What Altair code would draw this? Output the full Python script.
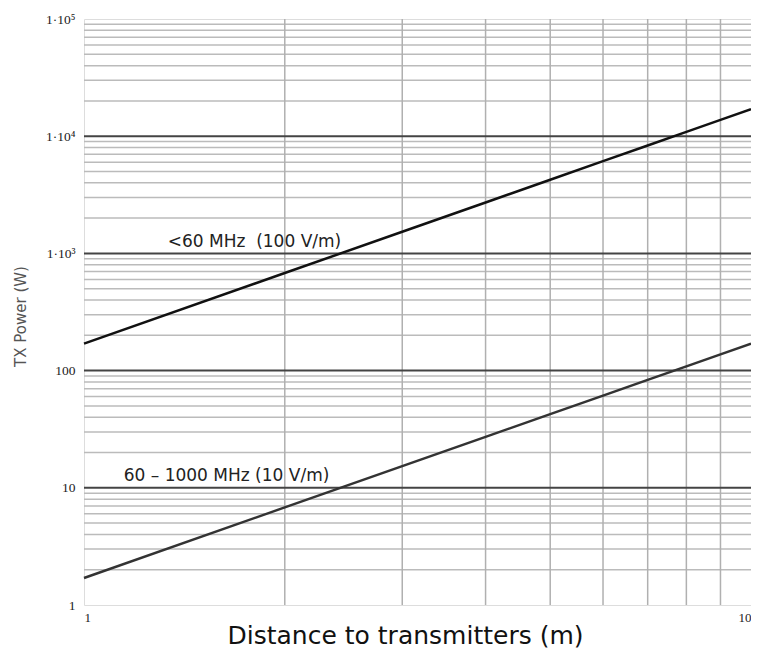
import altair as alt
import pandas as pd

# --- data ---
distance = [1, 2, 3, 4, 5, 6, 7, 8, 9, 10]
power_lt60 = [170, 680, 1530, 2720, 4250, 6120, 8330, 10880, 13770, 17000]
power_60_1000 = [1.7, 6.8, 15.3, 27.2, 42.5, 61.2, 83.3, 108.8, 137.7, 170]

series_names = ["<60 MHz\u00a0 (100 V/m)", "60 – 1000 MHz (10 V/m)"]
label_x = [1.335, 1.147]
label_y = [1242, 12.66]

x_tick_values = [1, 10]
y_tick_values = [1, 10, 100, 1000, 10000, 100000]
y_tick_labels = ["1", "10", "100", "1·10³", "1·10⁴", "1·10⁵"]

x_minor_grid = [2, 3, 4, 5, 6, 7, 8, 9]
y_major_grid = [10, 100, 1000, 10000]
y_minor_grid = [m * 10 ** e for e in range(5) for m in range(2, 10)]

# --- tables ---
lines_df = pd.DataFrame({
    "d": distance * 2,
    "P": power_lt60 + power_60_1000,
    "series": [series_names[0]] * len(distance) + [series_names[1]] * len(distance),
})
labels_df = pd.DataFrame({"d": label_x, "P": label_y, "text": series_names})
xgrid_df = pd.DataFrame({"d": x_minor_grid})
ymaj_df = pd.DataFrame({"P": y_major_grid})
ymin_df = pd.DataFrame({"P": y_minor_grid})

label_expr = "[" + ",".join("'%s'" % s for s in y_tick_labels) + "][indexof([" + \
    ",".join(str(v) for v in y_tick_values) + "], datum.value)]"

x_scale = alt.Scale(type="log", domain=[1, 10], nice=False)
y_scale = alt.Scale(type="log", domain=[1, 100000], nice=False)

x_axis = alt.Axis(
    values=x_tick_values, grid=False, domain=False, ticks=False,
    labelFont="Liberation Serif", labelFontSize=13, labelColor="#222",
    labelPadding=6, labelFlush=False,
    labelAlign={"condition": {"test": "datum.value >= 10", "value": "right"}, "value": "left"},
    title="Distance to transmitters (m)", titleFont="DejaVu Sans",
    titleFontSize=25, titleFontWeight="normal", titleColor="#111",
    titleX=321, titleY=38, titleAlign="center", titleBaseline="alphabetic",
)
y_axis = alt.Axis(
    values=y_tick_values, labelExpr=label_expr, grid=False, domain=False, ticks=False,
    labelFont="Liberation Serif", labelFontSize=13.5, labelColor="#222",
    labelPadding=9, labelFlush=False,
    title="TX Power (W)", titleFont="DejaVu Sans", titleFontSize=15,
    titleFontWeight="normal", titleColor="#555",
    titleX=-64, titleY=297, titleAngle=270, titleAlign="center", titleBaseline="middle",
)

X = alt.X("d:Q", scale=x_scale, axis=x_axis)
Y = alt.Y("P:Q", scale=y_scale, axis=y_axis)

xgrid = alt.Chart(xgrid_df).mark_rule(color="#b0b0b0", strokeWidth=1.5).encode(x=X)
ymin = alt.Chart(ymin_df).mark_rule(color="#bbbbbb", strokeWidth=1.5).encode(y=Y)
ymaj = alt.Chart(ymaj_df).mark_rule(color="#444", strokeWidth=2).encode(y=Y)

lines = alt.Chart(lines_df).mark_line(strokeWidth=2.5).encode(
    x=X, y=Y,
    color=alt.Color("series:N", scale=alt.Scale(domain=series_names, range=["#111", "#333"]), legend=None),
)

texts = alt.Chart(labels_df).mark_text(
    align="left", baseline="middle", font="DejaVu Sans", fontSize=17, color="#222"
).encode(x=X, y=Y, text="text:N")

chart = alt.layer(ymin, xgrid, ymaj, lines, texts).properties(
    width=667, height=586,
    autosize=alt.AutoSizeParams(type="none"),
    padding={"left": 76, "top": 11, "right": 0, "bottom": 44},
).configure_view(stroke="#555", strokeWidth=2).configure(background="white")

chart.save("out.html", embed_options={"renderer": "svg", "actions": False})
